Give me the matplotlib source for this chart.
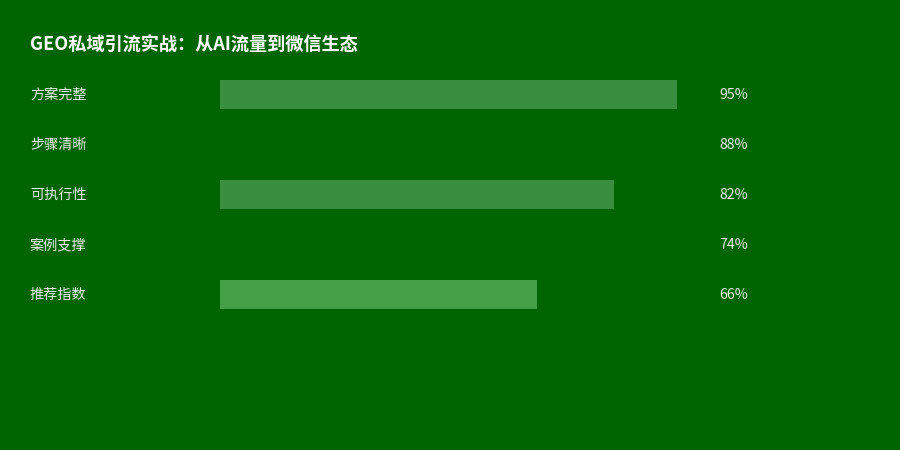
import matplotlib.pyplot as plt
from matplotlib.transforms import blended_transform_factory

# data
categories = ['方案完整', '步骤清晰', '可执行性', '案例支撑', '推荐指数']
values = [95, 88, 82, 74, 66]
bar_colors = ['#3a8e40', '#006400', '#3a8e40', '#006400', '#43a047']
title = 'GEO私域引流实战：从AI流量到微信生态'

bg = '#006400'
text_color = '#e0f0e0'

plt.rcParams['font.family'] = ['Noto Sans CJK SC', 'DejaVu Sans']

fig = plt.figure(figsize=(9, 4.5), dpi=100, facecolor=bg)
ax = fig.add_axes([220 / 900, 0, 481 / 900, 1])
ax.set_facecolor(bg)
ax.set_xlim(0, 100)
ax.set_ylim(7.12, -1.88)
ax.axis('off')

ypos = list(range(len(categories)))
ax.barh(ypos, values, height=0.58, color=bar_colors, left=0)

trans = blended_transform_factory(fig.transFigure, ax.transData)
for y, cat, v in zip(ypos, categories, values):
    ax.text(30 / 900, y + 0.02, cat, transform=trans, ha='left', va='center',
            color=text_color, fontsize=10.2)
    ax.text(719.5 / 900, y + 0.02, f'{v}%', transform=trans, ha='left', va='center',
            color=text_color, fontsize=10.2)

fig.text(30 / 900, 1 - 45 / 450, title, ha='left', va='center',
         color='white', fontsize=13.1, fontweight='bold')

fig.savefig('out.png', dpi=100, facecolor=bg)
